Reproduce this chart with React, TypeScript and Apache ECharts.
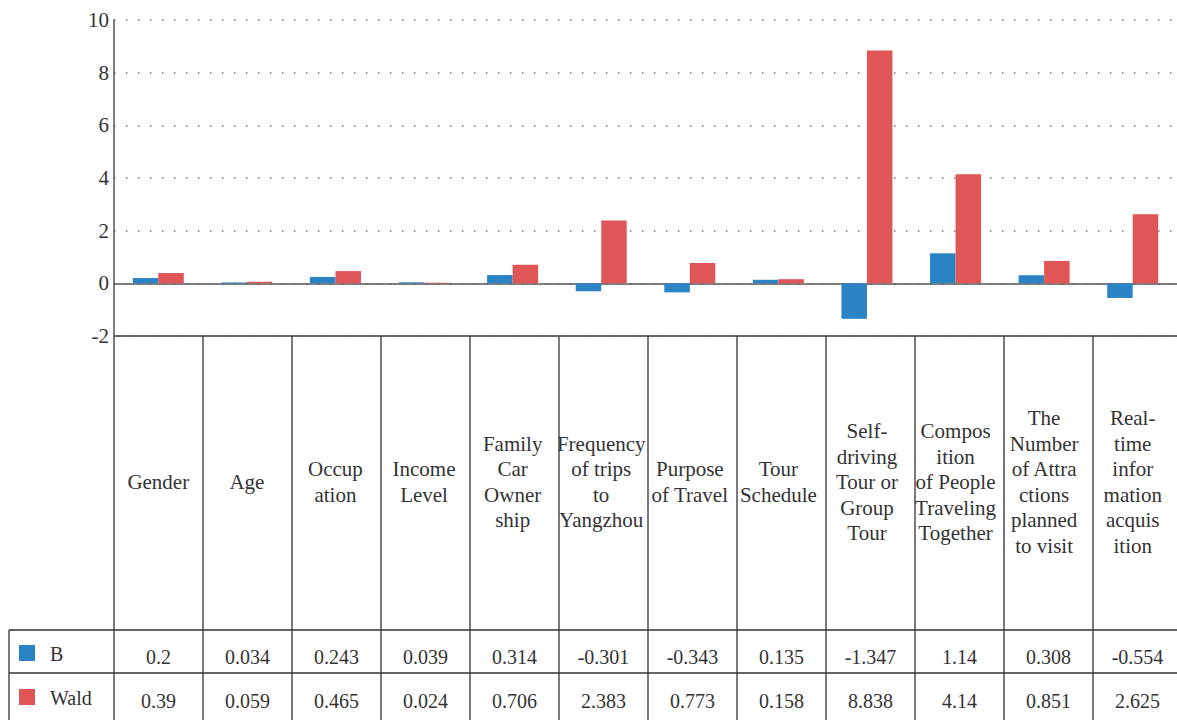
import React, { useEffect, useRef } from "react";
import * as echarts from "echarts";

const CATEGORIES = [
  "Gender", "Age", "Occupation", "Income Level", "Family Car Ownership",
  "Frequency of trips to Yangzhou", "Purpose of Travel", "Tour Schedule",
  "Self-driving Tour or Group Tour", "Composition of People Traveling Together",
  "The Number of Attractions planned to visit", "Real-time information acquisition",
];
const CATEGORY_LABELS = [
  "Gender", "Age", "Occup\nation", "Income\nLevel", "Family\nCar\nOwner\nship",
  "Frequency\nof trips\nto\nYangzhou", "Purpose\nof Travel", "Tour\nSchedule",
  "Self-\ndriving\nTour or\nGroup\nTour", "Compos\nition\nof People\nTraveling\nTogether",
  "The\nNumber\nof Attra\nctions\nplanned\nto visit", "Real-\ntime\ninfor\nmation\nacquis\nition",
];
const B_VALUES = [0.2, 0.034, 0.243, 0.039, 0.314, -0.301, -0.343, 0.135, -1.347, 1.14, 0.308, -0.554];
const WALD_VALUES = [0.39, 0.059, 0.465, 0.024, 0.706, 2.383, 0.773, 0.158, 8.838, 4.14, 0.851, 2.625];
const SERIES_NAMES = ["B", "Wald"];
const COLORS = ["#2a83c4", "#e05555"];
const Y_MIN = -2;
const Y_MAX = 10;
const Y_INTERVAL = 2;

const FONT = "Liberation Serif";
const FS = 20;
const FS_LABEL = 21;
const GRID_LEFT = 114;
const GRID_TOP = 20;
const GRID_H = 316;
const CELL_W = 89;
const GRID_W = CELL_W * CATEGORIES.length;
const ROW_B_TOP = 630;
const ROW_W_TOP = 673;
const BOTTOM = 720;
const TABLE_LEFT = 9;

export default function App() {
  const ref = useRef<HTMLDivElement>(null);
  useEffect(() => {
    document.body.style.margin = "0";
    const chart = echarts.init(ref.current!, null, { renderer: "svg" });
    const gridBottom = GRID_TOP + GRID_H;
    const right = GRID_LEFT + GRID_W;
    const lineStyle = { stroke: "#333", lineWidth: 1.3 };
    const txt = { fontFamily: FONT, fontSize: FS, fill: "#333" };
    const graphics: any[] = [];
    for (let i = 0; i <= CATEGORIES.length; i++) {
      const x = GRID_LEFT + i * CELL_W;
      graphics.push({ type: "line", shape: { x1: x, y1: gridBottom, x2: x, y2: BOTTOM }, style: lineStyle, silent: true });
    }
    graphics.push({ type: "line", shape: { x1: TABLE_LEFT, y1: ROW_B_TOP, x2: TABLE_LEFT, y2: BOTTOM }, style: lineStyle });
    graphics.push({ type: "line", shape: { x1: GRID_LEFT, y1: gridBottom, x2: right, y2: gridBottom }, style: lineStyle });
    graphics.push({ type: "line", shape: { x1: TABLE_LEFT, y1: ROW_B_TOP, x2: right, y2: ROW_B_TOP }, style: lineStyle });
    graphics.push({ type: "line", shape: { x1: TABLE_LEFT, y1: ROW_W_TOP, x2: right, y2: ROW_W_TOP }, style: lineStyle });
    const rows = [
      { cy: 657, values: B_VALUES },
      { cy: 701, values: WALD_VALUES },
    ];
    rows.forEach((r, k) => {
      const cy = r.cy;
      graphics.push({ type: "rect", shape: { x: 19, y: cy - 12, width: 16, height: 16 }, style: { fill: COLORS[k] } });
      graphics.push({
        type: "text", x: 50, y: cy - 3,
        style: { ...txt, text: SERIES_NAMES[k], textAlign: "left", textVerticalAlign: "middle" },
      });
      r.values.forEach((v, i) => {
        graphics.push({
          type: "text", x: GRID_LEFT + (i + 0.5) * CELL_W, y: cy,
          style: { ...txt, text: String(v), textAlign: "center", textVerticalAlign: "middle" },
        });
      });
    });

    chart.setOption({
      animation: false,
      textStyle: { fontFamily: FONT },
      grid: { left: GRID_LEFT, top: GRID_TOP, width: GRID_W, height: GRID_H, containLabel: false },
      xAxis: [
        {
          type: "category", data: CATEGORIES,
          axisLine: { show: true, onZero: true, lineStyle: { color: "#555", width: 1.5 } },
          axisTick: { show: false }, axisLabel: { show: false }, splitLine: { show: false },
        },
        {
          type: "category", data: CATEGORY_LABELS, position: "bottom",
          axisLine: { show: false, onZero: false }, axisTick: { show: false },
          axisLabel: {
            interval: 0, verticalAlign: "middle", margin: 146, lineHeight: 25.5,
            fontSize: FS_LABEL, color: "#333", fontFamily: FONT,
          },
        },
      ],
      yAxis: {
        type: "value", min: Y_MIN, max: Y_MAX, interval: Y_INTERVAL,
        axisLine: { show: true, lineStyle: { color: "#555", width: 1.5 } },
        axisTick: { show: false },
        axisLabel: { fontSize: FS_LABEL, color: "#333", fontFamily: FONT, margin: 5 },
        splitLine: { show: true, lineStyle: { color: "#777", type: [1.5, 10.5], width: 1.5 } },
      },
      series: [
        { name: SERIES_NAMES[0], type: "bar", data: B_VALUES, barWidth: 25.5, barGap: "0%", itemStyle: { color: COLORS[0] } },
        { name: SERIES_NAMES[1], type: "bar", data: WALD_VALUES, barWidth: 25.5, barGap: "0%", itemStyle: { color: COLORS[1] } },
      ],
      graphic: graphics,
    });
    return () => chart.dispose();
  }, []);
  return <div ref={ref} style={{ width: 1177, height: 720 }} />;
}
